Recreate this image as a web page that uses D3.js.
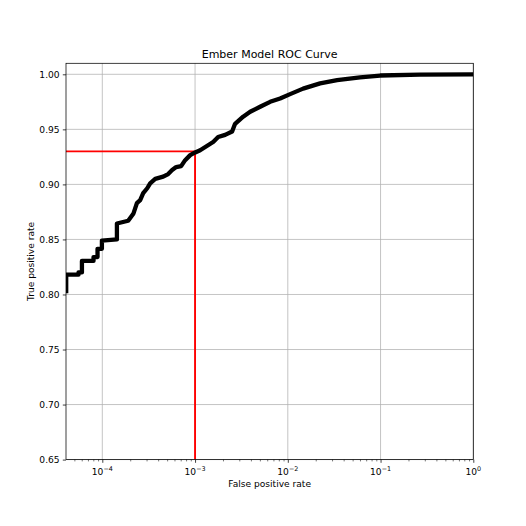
<!DOCTYPE html>
<html><head><meta charset="utf-8">
<script src="https://cdn.jsdelivr.net/npm/d3@7"></script>
<style>html,body{margin:0;padding:0;background:#fff;}svg{display:block;font-family:"DejaVu Sans",sans-serif;}</style>
</head><body>
<svg id="c" width="526" height="526"></svg>
<script>
const title = "Ember Model ROC Curve";
const xLabel = "False positive rate";
const yLabel = "True positive rate";
const fpr = [4.08e-5, 4.08e-5, 5.54e-5, 5.54e-5, 6.03e-5, 6.03e-5, 8.04e-5, 8.04e-5, 8.88e-5, 8.88e-5, 9.9e-5, 9.9e-5, 1.437e-4, 1.437e-4, 1.901e-4, 2.169e-4, 2.36e-4, 2.56e-4, 2.76e-4, 3.05e-4, 3.28e-4, 3.72e-4, 4.53e-4, 5.13e-4, 5.66e-4, 6.26e-4, 7.08e-4, 7.82e-4, 8.86e-4, 1.0025e-3, 1.135e-3, 1.567e-3, 1.774e-3, 2.11e-3, 2.51e-3, 2.70e-3, 3.30e-3, 3.93e-3, 5.03e-3, 6.45e-3, 8.26e-3, 1.059e-2, 1.462e-2, 2.23e-2, 3.40e-2, 6.01e-2, 9.88e-2, 0.2666, 1.0];
const tpr = [0.801, 0.818, 0.818, 0.820, 0.820, 0.8305, 0.8305, 0.834, 0.834, 0.8415, 0.8415, 0.849, 0.850, 0.8645, 0.867, 0.8736, 0.883, 0.8857, 0.892, 0.8965, 0.901, 0.905, 0.907, 0.9094, 0.913, 0.9157, 0.9166, 0.922, 0.9266, 0.929, 0.931, 0.9385, 0.943, 0.945, 0.948, 0.955, 0.9615, 0.966, 0.9705, 0.975, 0.978, 0.982, 0.987, 0.9918, 0.9948, 0.9973, 0.9989, 0.9998, 1.0];
const thresholdFpr = 1e-3;
const thresholdTpr = 0.93;
const xTicks = [1e-4, 1e-3, 1e-2, 1e-1, 1];
const xTickExp = ["\u22124", "\u22123", "\u22122", "\u22121", "0"];
const yTicks = [0.65, 0.70, 0.75, 0.80, 0.85, 0.90, 0.95, 1.00];
const yTickLabels = ["0.65", "0.70", "0.75", "0.80", "0.85", "0.90", "0.95", "1.00"];
const xDomain = [4.06e-5, 1];
const yDomain = [0.65, 1.01];

const L = 66, R = 473.3, T = 63.3, B = 459.6;
const svg = d3.select("#c");
const x = d3.scaleLog().domain(xDomain).range([L, R]);
const y = d3.scaleLinear().domain(yDomain).range([B, T]);

svg.append("defs").append("clipPath").attr("id", "clip")
  .append("rect").attr("x", L).attr("y", T).attr("width", R - L).attr("height", B - T);

// grid
const grid = svg.append("g").attr("stroke", "#b0b0b0").attr("stroke-width", 0.75);
xTicks.forEach(t => grid.append("line").attr("x1", x(t)).attr("x2", x(t)).attr("y1", T).attr("y2", B));
yTicks.forEach(t => grid.append("line").attr("x1", L).attr("x2", R).attr("y1", y(t)).attr("y2", y(t)));

const plot = svg.append("g").attr("clip-path", "url(#clip)");
// threshold lines
plot.append("line").attr("x1", x(xDomain[0])).attr("x2", x(thresholdFpr))
  .attr("y1", y(thresholdTpr)).attr("y2", y(thresholdTpr))
  .attr("stroke", "#ff0000").attr("stroke-width", 1.9);
plot.append("line").attr("x1", x(thresholdFpr)).attr("x2", x(thresholdFpr))
  .attr("y1", y(yDomain[0])).attr("y2", y(thresholdTpr))
  .attr("stroke", "#ff0000").attr("stroke-width", 1.9);

// ROC curve
const pts = fpr.map((f, i) => [f, tpr[i]]);
const line = d3.line().x(d => x(d[0])).y(d => y(d[1]));
plot.append("path").attr("d", line(pts)).attr("fill", "none")
  .attr("stroke", "#000").attr("stroke-width", 4.3).attr("stroke-linejoin", "round");

// axes
const xAxis = d3.axisBottom(x).tickValues(xTicks).tickSize(3.2).tickFormat("");
const gx = svg.append("g").attr("transform", `translate(0,${B})`).call(xAxis);
gx.select(".domain").remove();
gx.selectAll(".tick line").attr("stroke-width", 0.75);
// minor ticks
const minor = [];
for (let e = -5; e < 0; e++) for (let m = 2; m <= 9; m++) { const v = m * Math.pow(10, e); if (v >= xDomain[0] && v <= 1) minor.push(v); }
const xMinor = d3.axisBottom(x).tickValues(minor).tickSize(1.8).tickFormat("");
const gxm = svg.append("g").attr("transform", `translate(0,${B})`).call(xMinor);
gxm.select(".domain").remove();
gxm.selectAll(".tick line").attr("stroke-width", 0.55);

xTicks.forEach((t, i) => {
  const tx = svg.append("text").attr("x", x(t)).attr("y", 474.5).attr("text-anchor", "middle")
    .attr("font-size", 9.1).attr("fill", "#000");
  tx.append("tspan").text("10");
  tx.append("tspan").attr("dy", -4).attr("font-size", 6.4).text(xTickExp[i]);
});

const yAxis = d3.axisLeft(y).tickValues(yTicks).tickSize(3.2).tickPadding(3.2).tickFormat((d, i) => yTickLabels[i]);
const gy = svg.append("g").attr("transform", `translate(${L},0)`).call(yAxis);
gy.select(".domain").remove();
gy.selectAll(".tick line").attr("stroke-width", 0.75);
gy.selectAll(".tick text").attr("font-size", 9.1).attr("font-family", "DejaVu Sans").attr("fill", "#000");

// spines
svg.append("rect").attr("x", L).attr("y", T).attr("width", R - L).attr("height", B - T)
  .attr("fill", "none").attr("stroke", "#000").attr("stroke-width", 0.75);

svg.append("text").attr("x", (L + R) / 2).attr("y", 57.6).attr("text-anchor", "middle")
  .attr("font-size", 11).text(title);
svg.append("text").attr("x", (L + R) / 2).attr("y", 486.8).attr("text-anchor", "middle")
  .attr("font-size", 9.1).text(xLabel);
svg.append("text").attr("transform", `translate(34,${(T + B) / 2}) rotate(-90)`).attr("text-anchor", "middle")
  .attr("font-size", 9.1).text(yLabel);
</script>
</body></html>
